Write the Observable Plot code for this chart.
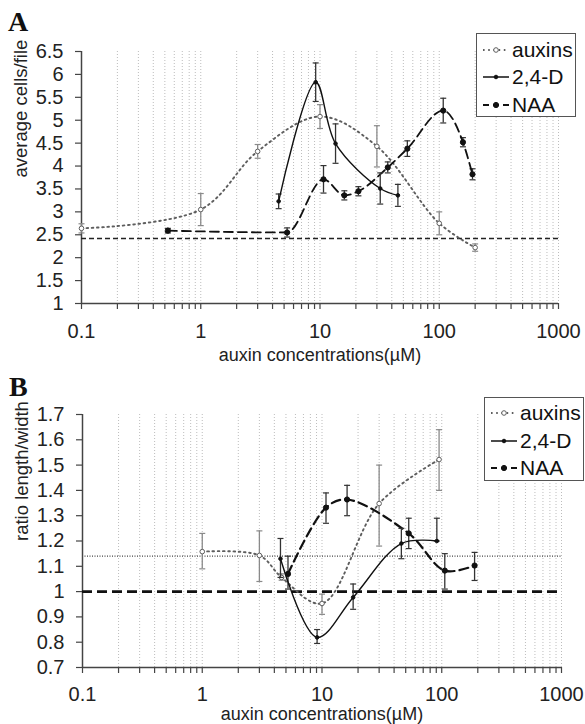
<!DOCTYPE html>
<html>
<head>
<meta charset="utf-8">
<script src="https://cdn.jsdelivr.net/npm/d3@7"></script>
<script src="https://cdn.jsdelivr.net/npm/@observablehq/plot@0.6"></script>
<style>
  body { margin: 0; background: #fff; font-family: "Liberation Sans", Arial, sans-serif; }
  #wrap { position: relative; width: 585px; height: 724px; overflow: hidden; background: #fff; }
  .panel { position: absolute; left: 0; width: 585px; height: 362px; z-index: 1; }
  .panel svg { overflow: visible; background: transparent !important; }
  .plabel { position: absolute; z-index: 5; font-family: "Liberation Serif", "Times New Roman", serif; font-weight: bold; font-size: 28px; line-height: 28px; color: #111; }
  .legend { position: absolute; z-index: 5; border: 1.5px solid #555; background: #fff; box-sizing: border-box; }
  .legend .row { position: absolute; left: 0; height: 26px; display: flex; align-items: center; font-size: 21px; color: #111; }
  .legend .row svg { margin-right: 2px; }
</style>
</head>
<body>
<div id="wrap">
  <div class="plabel" style="left:8px; top:8px;">A</div>
  <div class="plabel" style="left:9px; top:373px;">B</div>
  <div class="panel" id="panelA" style="top:0;"></div>
  <div class="panel" id="panelB" style="top:362px;"></div>
</div>
<script>
// ---------------- DATA ----------------
const seriesNames = ["auxins", "2,4-D", "NAA"];

// Panel A : average cells/file
const auxA_x = [0.1, 1, 3, 10, 30, 100, 200];
const auxA_y = [2.64, 3.05, 4.32, 5.08, 4.43, 2.75, 2.22];
const auxA_e = [0.1, 0.35, 0.15, 0.26, 0.45, 0.25, 0.08];

const d24A_x = [4.5, 9.2, 13.5, 32, 45];
const d24A_y = [3.23, 5.83, 4.49, 3.51, 3.36];
const d24A_e = [0.16, 0.42, 0.43, 0.34, 0.24];

const naaA_x = [0.53, 5.3, 10.7, 16, 21, 37, 54, 108, 158, 190];
const naaA_y = [2.59, 2.55, 3.71, 3.36, 3.45, 3.97, 4.38, 5.21, 4.52, 3.82];
const naaA_e = [0.05, 0.1, 0.3, 0.1, 0.1, 0.12, 0.17, 0.27, 0.1, 0.12];

const refA = [2.42];

// Panel B : ratio length/width
const auxB_x  = [1, 3, 4.6, 10, 30, 95];
const auxB_y  = [1.158, 1.143, 1.056, 0.953, 1.348, 1.522];
const auxB_lo = [1.09, 1.04, 1.045, 0.91, 1.18, 1.40];
const auxB_hi = [1.23, 1.24, 1.07, 0.99, 1.50, 1.64];

const d24B_x  = [4.5, 9.1, 18.2, 46, 91];
const d24B_y  = [1.13, 0.819, 0.977, 1.19, 1.2];
const d24B_lo = [1.056, 0.795, 0.93, 1.13, 1.2];
const d24B_hi = [1.21, 0.85, 1.03, 1.25, 1.29];

const naaB_x  = [5.2, 10.8, 16.2, 53, 106, 188];
const naaB_y  = [1.07, 1.332, 1.364, 1.23, 1.083, 1.103];
const naaB_lo = [1.01, 1.27, 1.30, 1.17, 1.01, 1.044];
const naaB_hi = [1.14, 1.39, 1.42, 1.29, 1.15, 1.155];

const refB_dotted = [1.14];
const refB_dashed = [1.0];

// Axes
const xDomain = [0.1, 1000];
const xTickLabels = [0.1, 1, 10, 100, 1000];
const yDomainA = [1, 6.5];
const yTicksA = [1, 1.5, 2, 2.5, 3, 3.5, 4, 4.5, 5, 5.5, 6, 6.5];
const yDomainB = [0.7, 1.7];
const yTicksB = [0.7, 0.8, 0.9, 1, 1.1, 1.2, 1.3, 1.4, 1.5, 1.6, 1.7];

const xTitle = "auxin concentrations(µM)";
const yTitleA = "average cells/file";
const yTitleB = "ratio length/width";

// ---------------- HELPERS ----------------
const xMinor = [];
for (let d = -1; d < 3; d++) for (let k = 1; k < 10; k++) xMinor.push(+(k * Math.pow(10, d)).toPrecision(3));
xMinor.push(1000);

const rowsSym = (xs, ys, es) => xs.map((x, i) => ({x, y: ys[i], lo: ys[i] - es[i], hi: ys[i] + es[i]}));
const rowsLH = (xs, ys, lo, hi) => xs.map((x, i) => ({x, y: ys[i], lo: lo[i], hi: hi[i]}));

const cap = { draw(ctx, size) { const w = Math.sqrt(size / Math.PI); ctx.moveTo(-w, 0); ctx.lineTo(w, 0); } };

const styles = {
  "auxins": {color: "#5e5e5e", err: "#8a8a8a", w: 1.9, dash: "1.6,3.6", r: 2.3, fill: "white"},
  "2,4-D":  {color: "#111", err: "#333", w: 1.4, dash: null, r: 1.8, fill: "#111"},
  "NAA":    {color: "#111", err: "#333", w: 1.8, dash: "9,5", r: 2.6, fill: "#111"}
};

function seriesMarks(data, st, lineW, curve) {
  return [
    Plot.ruleX(data, {x: "x", y1: "lo", y2: "hi", stroke: st.err, strokeWidth: 1.3}),
    Plot.dot(data, {x: "x", y: "lo", symbol: cap, r: 3, stroke: st.err, strokeWidth: 1.2}),
    Plot.dot(data, {x: "x", y: "hi", symbol: cap, r: 3, stroke: st.err, strokeWidth: 1.2}),
    Plot.line(data, {x: "x", y: "y", curve: curve || "catmull-rom", stroke: st.color, strokeWidth: lineW || st.w, strokeDasharray: st.dash}),
    Plot.dot(data, {x: "x", y: "y", r: st.r, fill: st.fill, stroke: st.color, strokeWidth: 1})
  ];
}

function axesMarks(yDomain, yTicks, yTitle, tickPad, titleDy, titleSize, yTitleSize) {
  return [
    Plot.ruleX(xMinor, {stroke: "#b5b5b5", strokeWidth: 0.9, strokeDasharray: "1,2"}),
    Plot.axisX({ticks: xMinor, tickSize: 6, tickFormat: () => "", stroke: "#444", strokeWidth: 1.2, label: null}),
    Plot.axisX({ticks: xTickLabels, tickSize: 0, tickPadding: tickPad, tickFormat: d => String(d), fontSize: 20, fill: "#222", label: null}),
    Plot.axisY({ticks: yTicks, tickSize: 6, tickPadding: 12, tickFormat: d => String(d), fontSize: 20, fill: "#222", stroke: "#444", strokeWidth: 1.2, label: null}),
    Plot.ruleX([xDomain[0]], {stroke: "#444", strokeWidth: 1.5}),
    Plot.ruleY([yDomain[0]], {stroke: "#444", strokeWidth: 1.5}),
    Plot.text([xTitle], {frameAnchor: "bottom", dy: titleDy, lineAnchor: "middle", fontSize: titleSize, fill: "#222"}),
    Plot.text([yTitle], {frameAnchor: "left", dx: -60, rotate: -90, lineAnchor: "middle", fontSize: yTitleSize, fill: "#222"})
  ];
}

// ---------------- PANEL A ----------------
const plotA = Plot.plot({
  width: 585, height: 362,
  marginLeft: 81, marginRight: 27, marginTop: 51, marginBottom: 59,
  style: {fontFamily: "'Liberation Sans', Arial, sans-serif", background: "transparent", color: "#222", overflow: "visible"},
  x: {type: "log", domain: xDomain, axis: null},
  y: {domain: yDomainA, axis: null},
  marks: [
    ...axesMarks(yDomainA, yTicksA, yTitleA, 20, 52, 18, 18.5),
    Plot.ruleY(refA, {stroke: "#222", strokeWidth: 1.6, strokeDasharray: "5,3"}),
    ...seriesMarks(rowsSym(auxA_x, auxA_y, auxA_e), styles["auxins"]),
    ...seriesMarks(rowsSym(naaA_x, naaA_y, naaA_e), styles["NAA"], null, "monotone-x"),
    ...seriesMarks(rowsSym(d24A_x, d24A_y, d24A_e), styles["2,4-D"])
  ]
});
document.getElementById("panelA").appendChild(plotA);

// ---------------- PANEL B ----------------
const plotB = Plot.plot({
  width: 585, height: 362,
  marginLeft: 82, marginRight: 24, marginTop: 52, marginBottom: 57,
  style: {fontFamily: "'Liberation Sans', Arial, sans-serif", background: "transparent", color: "#222", overflow: "visible"},
  x: {type: "log", domain: xDomain, axis: null},
  y: {domain: yDomainB, axis: null},
  marks: [
    ...axesMarks(yDomainB, yTicksB, yTitleB, 19, 47, 18, 18.5),
    Plot.ruleY(refB_dotted, {stroke: "#444", strokeWidth: 1.2, strokeDasharray: "1,1.5"}),
    Plot.ruleY(refB_dashed, {stroke: "#111", strokeWidth: 2.6, strokeDasharray: "10,5"}),
    ...seriesMarks(rowsLH(auxB_x, auxB_y, auxB_lo, auxB_hi), styles["auxins"]),
    ...seriesMarks(rowsLH(naaB_x, naaB_y, naaB_lo, naaB_hi), styles["NAA"], 2.2),
    ...seriesMarks(rowsLH(d24B_x, d24B_y, d24B_lo, d24B_hi), styles["2,4-D"])
  ]
});
document.getElementById("panelB").appendChild(plotB);

// ---------------- LEGENDS ----------------
function makeLegend(left, top, w, h, rowTops) {
  const box = document.createElement("div");
  box.className = "legend";
  Object.assign(box.style, {left: left + "px", top: top + "px", width: w + "px", height: h + "px"});
  seriesNames.forEach((name, i) => {
    const st = styles[name];
    const row = document.createElement("div");
    row.className = "row";
    row.style.top = rowTops[i] + "px";
    row.style.left = "5px";
    const ns = "http://www.w3.org/2000/svg";
    const s = document.createElementNS(ns, "svg");
    s.setAttribute("width", 28); s.setAttribute("height", 10);
    const ln = document.createElementNS(ns, "line");
    ln.setAttribute("x1", 1); ln.setAttribute("x2", 27); ln.setAttribute("y1", 5); ln.setAttribute("y2", 5);
    ln.setAttribute("stroke", st.color); ln.setAttribute("stroke-width", name === "2,4-D" ? 1.5 : 1.8);
    if (st.dash) ln.setAttribute("stroke-dasharray", name === "NAA" ? "6,4" : st.dash);
    s.appendChild(ln);
    const c = document.createElementNS(ns, "circle");
    c.setAttribute("cx", 14); c.setAttribute("cy", 5); c.setAttribute("r", st.r);
    c.setAttribute("fill", st.fill); c.setAttribute("stroke", st.color);
    s.appendChild(c);
    row.appendChild(s);
    const t = document.createElement("span");
    t.textContent = name;
    row.appendChild(t);
    box.appendChild(row);
  });
  document.getElementById("wrap").appendChild(box);
}
makeLegend(476, 33, 100, 84, [3, 30, 58]);
makeLegend(484, 397, 100, 84, [2, 30, 57]);
</script>
</body>
</html>
